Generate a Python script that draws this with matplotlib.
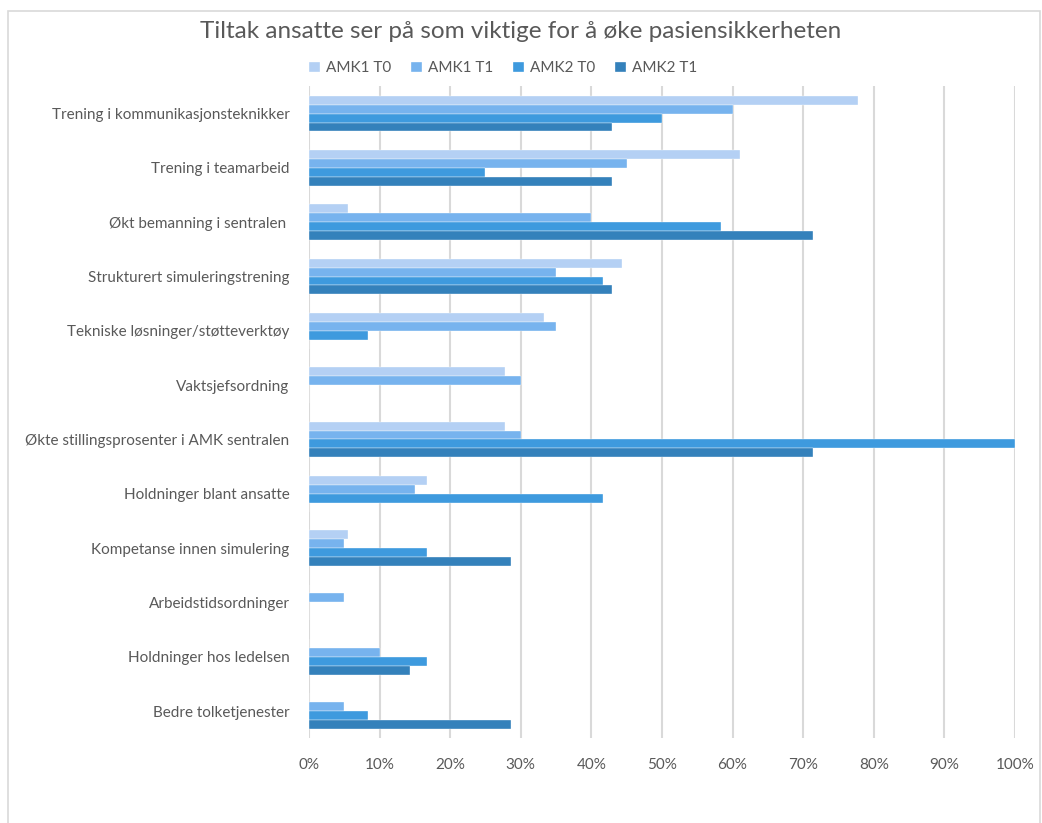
import matplotlib.pyplot as plt
import numpy as np

plt.rcParams['font.family'] = ['Lato', 'DejaVu Sans']

# tiltak, ovenfra og ned
kategorier = [
    'Trening i kommunikasjonsteknikker',
    'Trening i teamarbeid',
    'Økt bemanning i sentralen ',
    'Strukturert simuleringstrening',
    'Tekniske løsninger/støtteverktøy',
    'Vaktsjefsordning',
    'Økte stillingsprosenter i AMK sentralen',
    'Holdninger blant ansatte',
    'Kompetanse innen simulering',
    'Arbeidstidsordninger',
    'Holdninger hos ledelsen',
    'Bedre tolketjenester',
]

amk1_t0 = [0.778, 0.611, 0.056, 0.444, 0.333, 0.278, 0.278, 0.167, 0.056, 0.0, 0.0, 0.0]
amk1_t1 = [0.60, 0.45, 0.40, 0.35, 0.35, 0.30, 0.30, 0.15, 0.05, 0.05, 0.10, 0.05]
amk2_t0 = [0.50, 0.25, 0.583, 0.417, 0.083, 0.0, 1.0, 0.417, 0.167, 0.0, 0.167, 0.083]
amk2_t1 = [0.429, 0.429, 0.714, 0.429, 0.0, 0.0, 0.714, 0.0, 0.286, 0.0, 0.143, 0.286]

serier = ['AMK1 T0', 'AMK1 T1', 'AMK2 T0', 'AMK2 T1']
farger = ['#B4D0F4', '#77B3EE', '#3E9ADE', '#3481BB']

fig = plt.figure(figsize=(10.42, 8.23), dpi=100)
ax = fig.add_axes([0.2965, 0.103, 0.6775, 0.792])

y = np.arange(len(kategorier))
h = 0.165
for i, (navn, verdier, farge) in enumerate(zip(serier, [amk1_t0, amk1_t1, amk2_t0, amk2_t1], farger)):
    ax.barh(y + (i - 1.5) * h, verdier, height=h, color=farge, edgecolor='white',
            linewidth=0.25, label=navn, zorder=3)

ax.set_xlim(0, 1.0)
ax.set_ylim(len(kategorier) - 0.5, -0.5)
ax.set_xticks(np.arange(0, 1.01, 0.1))
ax.set_xticklabels([f'{int(round(v * 100))}%' for v in np.arange(0, 1.01, 0.1)])
ax.set_yticks(y)
ax.set_yticklabels(kategorier)
ax.tick_params(axis='both', length=0, labelsize=11, colors='#595959')
ax.tick_params(axis='x', pad=14)
ax.tick_params(axis='y', pad=14)
ax.grid(axis='x', color='#D9D9D9', linewidth=1.5, zorder=0)
for s in ax.spines.values():
    s.set_visible(False)

fig.suptitle('Tiltak ansatte ser på som viktige for å øke pasiensikkerheten',
             x=0.5, y=0.975, fontsize=17.5, color='#595959')
fig.legend(loc='center', bbox_to_anchor=(0.483, 0.917), ncol=4, frameon=False,
           fontsize=11, handlelength=0.7, handleheight=0.7, handletextpad=0.4,
           columnspacing=1.3, labelcolor='#595959')

# ramme rundt hele figuren
fig.patches.append(plt.Rectangle((0.008, -0.01), 0.99, 0.997, transform=fig.transFigure,
                                 fill=False, edgecolor='#D9D9D9', linewidth=1.2))

fig.savefig('out.png', dpi=100)
